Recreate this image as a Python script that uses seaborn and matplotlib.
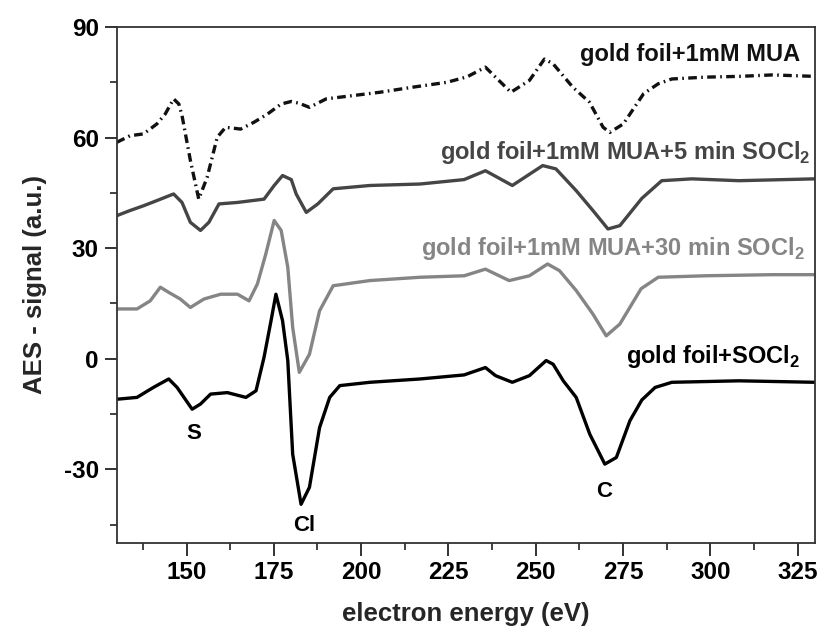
import matplotlib
matplotlib.use("Agg")
import matplotlib.pyplot as plt
from matplotlib.ticker import MultipleLocator
import seaborn as sns
import pandas as pd

# --- AES spectra (electron energy in eV, signal in a.u.) ---
mua_energy = [130, 133.8, 137.7, 141.5, 143.9, 146.3, 147.8, 148.7, 151.1, 153.5,
              155.9, 158.8, 161.2, 165.5, 169.4, 173.2, 177.1, 180, 182.3, 185.2,
              190, 197.7, 205.4, 215, 224.6, 230.4, 235.6, 238.5, 242.9, 248.2,
              252.5, 255, 260.6, 265.4, 269.3, 271.2, 275.1, 280.9, 285.1, 289,
              298.6, 308.2, 317.8, 330]
mua_signal = [58.7, 60.5, 61, 63.7, 66.4, 70.5, 69.1, 66, 53.8, 43.3,
              49.2, 60.1, 62.8, 62.3, 64.2, 66.4, 69.1, 69.8, 69.3, 68.2,
              70.5, 71.4, 72.3, 73.7, 75, 76.5, 79.1, 76.4, 72.3, 75.5,
              81.3, 80, 73.7, 69.6, 62.8, 61.4, 63.7, 71.9, 74.6, 75.9,
              76.4, 76.6, 77, 76.6]

soc5_energy = [130, 133.8, 137.7, 141.5, 146.3, 148.7, 151.1, 154, 156.4, 159.3,
               164.6, 172.2, 175.1, 177.5, 180, 181.4, 184.3, 187.6, 192, 202.5,
               216.9, 229.5, 235.6, 243.3, 252, 255.8, 261.6, 266.4, 270.7, 274.1,
               280.4, 286.1, 294.7, 308.2, 330]
soc5_signal = [38.8, 40.2, 41.5, 42.9, 44.7, 42.4, 37, 34.8, 37, 42,
               42.4, 43.3, 47, 49.7, 48.6, 44.7, 39.7, 42, 46.1, 47,
               47.4, 48.6, 51, 47, 52.4, 51.5, 45.6, 40.2, 35.2, 36.1,
               43.5, 48.3, 48.8, 48.3, 48.8]

soc30_energy = [130, 135.8, 139.6, 142.5, 144.9, 148.2, 151.1, 155, 159.8, 164.6,
                167.9, 170.3, 172.7, 175.1, 177.1, 179, 180.4, 182.3, 185.2, 188.1,
                192, 202.5, 216.9, 229.5, 235.6, 242.4, 248.2, 253.4, 256.8, 261.6,
                266.4, 270.2, 274.1, 280.2, 285.1, 298.6, 317.8, 330]
soc30_signal = [13.5, 13.5, 15.7, 19.4, 18, 16.2, 13.9, 16.2, 17.5, 17.5,
                15.7, 20.3, 28.4, 37.5, 34.8, 24.8, 8.5, -3.7, 1.2, 13,
                19.8, 21.2, 22.1, 22.5, 24.3, 21.2, 22.5, 25.7, 23.9, 18.5,
                12.1, 6.2, 9.4, 19, 22.1, 22.5, 22.8, 22.8]

gold_energy = [130, 135.8, 140.5, 144.9, 147.3, 151.6, 154, 156.9, 161.7, 167,
               169.9, 172.2, 174.2, 175.6, 177.5, 179, 180.4, 182.8, 185.2, 188.1,
               191, 193.9, 202.5, 216.9, 229.5, 235.6, 238.5, 243.3, 248.2, 253,
               255, 257.9, 261.6, 265.5, 269.8, 273.1, 277, 280.4, 284.2, 289,
               308.2, 330]
gold_signal = [-11, -10.5, -7.8, -5.5, -7.8, -13.7, -12.3, -9.6, -9.2, -10.5,
               -8.7, 0.4, 10.3, 17.5, 10.3, -0.5, -25.9, -39.5, -34.9, -18.7,
               -10.5, -7.3, -6.4, -5.5, -4.4, -2.4, -4.6, -6.4, -4.6, -0.5,
               -1.5, -6, -10.5, -20.5, -28.6, -26.8, -16.8, -11.2, -7.8, -6.4,
               -6, -6.4]

series_labels = ["gold foil+1mM MUA",
                 "gold foil+1mM MUA+5 min SOCl$_\\mathbf{2}$",
                 "gold foil+1mM MUA+30 min SOCl$_\\mathbf{2}$",
                 "gold foil+SOCl$_\\mathbf{2}$"]
peak_labels = ["S", "Cl", "C"]
x_ticks = [150, 175, 200, 225, 250, 275, 300, 325]
y_ticks = [-30, 0, 30, 60, 90]

sns.set_theme(style="ticks")
plt.rcParams["font.family"] = ["Liberation Sans", "DejaVu Sans"]
plt.rcParams["font.weight"] = "bold"
plt.rcParams["axes.unicode_minus"] = False
plt.rcParams["mathtext.fontset"] = "custom"
plt.rcParams["mathtext.rm"] = "Liberation Sans:bold"
plt.rcParams["mathtext.bf"] = "Liberation Sans:bold"

fig = plt.figure(figsize=(8.23, 6.37), dpi=100)
ax = fig.add_axes([0.1418, 0.1476, 0.8485, 0.81])

lw = 2.4
spectra = [
    (mua_energy, mua_signal, "#111111", (0, (2.6, 1.3, 0.5, 1.3))),
    (soc5_energy, soc5_signal, "#454545", "-"),
    (soc30_energy, soc30_signal, "#858585", "-"),
    (gold_energy, gold_signal, "#000000", "-"),
]
for xs, ys, col, ls in spectra:
    df = pd.DataFrame({"energy": xs, "signal": ys})
    sns.lineplot(data=df, x="energy", y="signal", ax=ax, color=col, lw=lw,
                 linestyle=ls, sort=False, estimator=None)

ax.set_xlim(130, 330)
ax.set_ylim(-50, 90)
ax.set_xticks(x_ticks)
ax.set_yticks(y_ticks)
ax.xaxis.set_minor_locator(MultipleLocator(12.5))
ax.yaxis.set_minor_locator(MultipleLocator(15))
ax.tick_params(which="major", length=9, width=1.3, labelsize=17.5, colors="#222222",
               labelcolor="black", direction="out", pad=4)
ax.tick_params(which="minor", length=5, width=1.2, colors="#222222", direction="out")
for lab in ax.get_xticklabels() + ax.get_yticklabels():
    lab.set_fontweight("bold")
for sp in ax.spines.values():
    sp.set_visible(True)
    sp.set_linewidth(1.3)
    sp.set_color("#333333")

ax.set_xlabel("electron energy (eV)", fontsize=18.5, fontweight="bold", labelpad=13)
ax.set_ylabel("AES - signal (a.u.)", fontsize=18.5, fontweight="bold", labelpad=12)

label_font = dict(fontsize=17, fontweight="bold", ha="right", va="center")
ax.text(325.8, 82.5, series_labels[0], color="#111111", **label_font)
ax.text(328.8, 56, series_labels[1], color="#454545", **label_font)
ax.text(326.9, 30, series_labels[2], color="#858585", **label_font)
ax.text(325.9, 0.5, series_labels[3], color="#000000", **label_font)

peak_font = dict(fontsize=16, fontweight="bold", ha="center", va="center", color="black")
ax.text(152.1, -20.3, peak_labels[0], **peak_font)
ax.text(183.7, -45.3, peak_labels[1], **peak_font)
ax.text(269.6, -35.9, peak_labels[2], **peak_font)

fig.savefig("out.png", dpi=100)
